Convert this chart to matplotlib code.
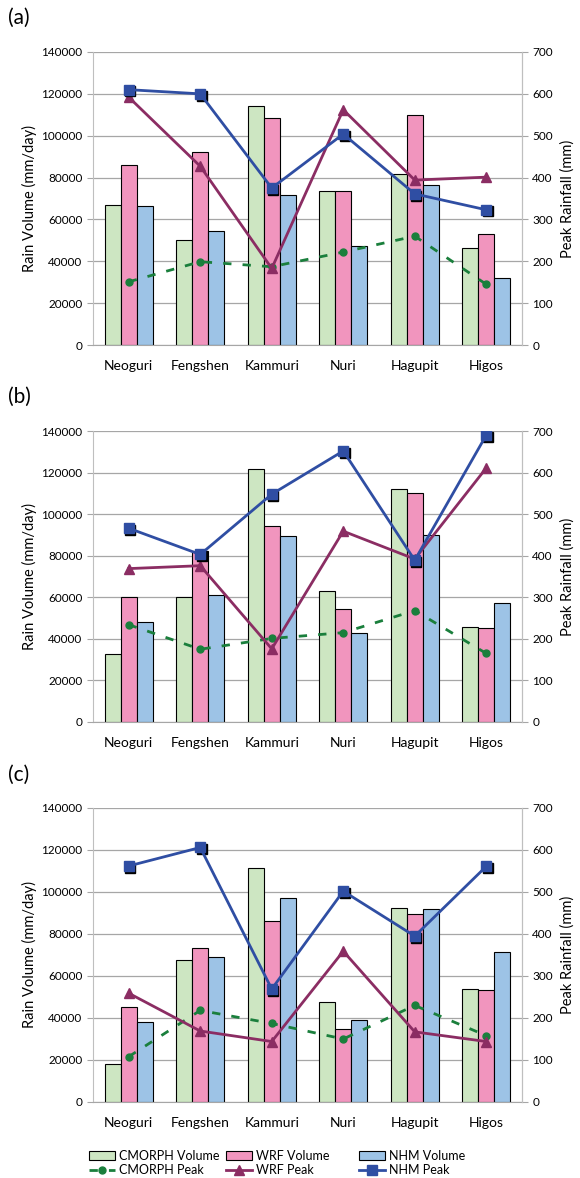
import numpy as np
import matplotlib
matplotlib.use('Agg')
import matplotlib.pyplot as plt
from matplotlib.transforms import offset_copy
from matplotlib.patches import Patch
from matplotlib.lines import Line2D

plt.rcParams['font.family'] = ['Lato', 'DejaVu Sans']

# Données
typhons = ['Neoguri', 'Fengshen', 'Kammuri', 'Nuri', 'Hagupit', 'Higos']

# volumes (mm/day), panneaux a, b, c
cmorph_vol_a = [67100, 50200, 114300, 73700, 81600, 46200]
wrf_vol_a = [85800, 92000, 108600, 73400, 109900, 52800]
nhm_vol_a = [66500, 54500, 71900, 47500, 76400, 32200]

cmorph_vol_b = [32600, 60200, 121700, 62800, 112200, 45900]
wrf_vol_b = [60200, 82400, 94100, 54400, 110100, 45300]
nhm_vol_b = [48000, 61200, 89300, 42600, 89800, 57300]

cmorph_vol_c = [17900, 67800, 111600, 47700, 92500, 53700]
wrf_vol_c = [45100, 73500, 86300, 34800, 89600, 53100]
nhm_vol_c = [38000, 68900, 97300, 38900, 91900, 71400]

# pics (mm)
cmorph_peak_a = [151, 199, 187, 222, 260, 145]
wrf_peak_a = [592, 427, 183, 562, 394, 401]
nhm_peak_a = [610, 600, 375, 504, 361, 323]

cmorph_peak_b = [234, 175, 201, 215, 268, 165]
wrf_peak_b = [369, 376, 176, 459, 392, 611]
nhm_peak_b = [466, 403, 548, 652, 389, 690]

cmorph_peak_c = [108, 218, 187, 150, 230, 158]
wrf_peak_c = [259, 169, 144, 359, 167, 144]
nhm_peak_c = [562, 606, 269, 502, 395, 561]

panels = [
    ('(a)', [cmorph_vol_a, wrf_vol_a, nhm_vol_a], [cmorph_peak_a, wrf_peak_a, nhm_peak_a]),
    ('(b)', [cmorph_vol_b, wrf_vol_b, nhm_vol_b], [cmorph_peak_b, wrf_peak_b, nhm_peak_b]),
    ('(c)', [cmorph_vol_c, wrf_vol_c, nhm_vol_c], [cmorph_peak_c, wrf_peak_c, nhm_peak_c]),
]

bar_colors = ['#cde6c2', '#f195be', '#9dc3e6']
line_green = '#1a7f3c'
line_wrf = '#8b2d63'
line_nhm = '#2f4ea3'
grid_col = '#a6a6a6'
axis_col = '#bfbfbf'

W, H = 580, 1178
fig = plt.figure(figsize=(W / 100, H / 100), dpi=100)

# positions des axes en pixels (haut, bas)
boxes = [(52, 345), (431, 722), (808, 1102)]
left_px, right_px = 93, 522
label_y = [18, 397, 775]

x = np.arange(len(typhons))
bw = 0.226

for (lab, vols, peaks), (top, bot), ly in zip(panels, boxes, label_y):
    ax = fig.add_axes([left_px / W, 1 - bot / H, (right_px - left_px) / W, (bot - top) / H])
    ax.set_axisbelow(True)
    for k, (v, c) in enumerate(zip(vols, bar_colors)):
        ax.bar(x + (k - 1) * bw, v, bw, color=c, edgecolor='black', linewidth=0.8, zorder=2)
    ax.set_xlim(-0.5, 5.5)
    ax.set_ylim(0, 140000)
    ax.set_yticks(np.arange(0, 140001, 20000))
    ax.yaxis.grid(True, color=grid_col, linewidth=0.9)
    ax.set_xticks(x)
    ax.set_xticklabels(typhons, fontsize=10)
    ax.tick_params(axis='x', length=0, pad=11)
    ax.tick_params(axis='y', labelsize=8.5, length=4, color=grid_col, direction='out')
    ax.spines['top'].set_visible(False)
    ax.spines['left'].set_color(axis_col)
    ax.spines['right'].set_color(axis_col)
    ax.spines['bottom'].set_color(grid_col)
    ax.set_ylabel('Rain Volume (mm/day)', fontsize=10.5, labelpad=3)

    ax2 = ax.twinx()
    ax2.set_ylim(0, 700)
    ax2.set_yticks(np.arange(0, 701, 100))
    ax2.tick_params(axis='y', labelsize=8.5, length=4, color=grid_col, direction='out')
    for s in ['top', 'left', 'bottom']:
        ax2.spines[s].set_visible(False)
    ax2.spines['right'].set_color(axis_col)
    ax2.set_ylabel('Peak Rainfall (mm)', fontsize=10.5, labelpad=5)

    ax2.plot(x, peaks[0], color=line_green, linestyle=(0, (3, 4)), linewidth=2,
             marker='o', markersize=5, zorder=3)
    ax2.plot(x, peaks[1], color=line_wrf, linewidth=2, marker='^', markersize=7, zorder=4)
    # ombre des carrés
    shadow = offset_copy(ax2.transData, fig=fig, x=1.2, y=-1.2, units='points')
    ax2.plot(x, peaks[2], linestyle='none', marker='s', markersize=7, color='black',
             transform=shadow, zorder=5)
    ax2.plot(x, peaks[2], color=line_nhm, linewidth=2, marker='s', markersize=7, zorder=6)

    fig.text(8 / W, 1 - ly / H, lab, fontsize=15, va='center', ha='left')

# légende : une colonne par source
leg_cols = [
    [Patch(facecolor=bar_colors[0], edgecolor='black', linewidth=0.8, label='CMORPH Volume'),
     Line2D([], [], color=line_green, linestyle=(0, (3, 4)), linewidth=2, marker='o', markersize=5, label='CMORPH Peak')],
    [Patch(facecolor=bar_colors[1], edgecolor='black', linewidth=0.8, label='WRF Volume'),
     Line2D([], [], color=line_wrf, linewidth=2, marker='^', markersize=7, label='WRF Peak')],
    [Patch(facecolor=bar_colors[2], edgecolor='black', linewidth=0.8, label='NHM Volume'),
     Line2D([], [], color=line_nhm, linewidth=2, marker='s', markersize=7, label='NHM Peak')],
]
leg_x = [89, 226, 359]
for hs, lx in zip(leg_cols, leg_x):
    leg = fig.legend(handles=hs, loc='upper left', bbox_to_anchor=(lx / W, 1 - 1150 / H),
                     frameon=False, fontsize=9, handlelength=2.1, handleheight=0.8,
                     labelspacing=0.2, handletextpad=0.3, borderpad=0, borderaxespad=0)

fig.savefig('out.png', dpi=100)
